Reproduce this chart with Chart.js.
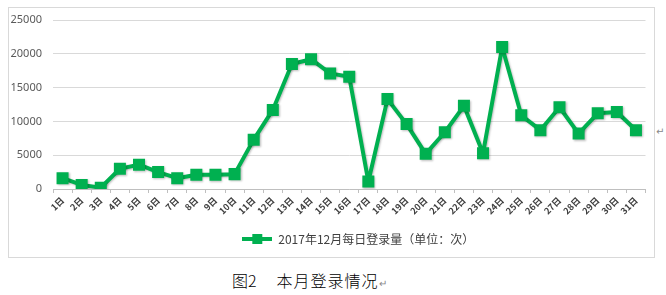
<!DOCTYPE html>
<html>
<head>
<meta charset="utf-8">
<script src="https://cdn.jsdelivr.net/npm/chart.js@4/dist/chart.umd.min.js"></script>
<style>
  html, body { margin: 0; padding: 0; background: #fff; }
  body { width: 666px; height: 295px; position: relative; overflow: hidden; }
  #box {
    position: absolute; left: 8px; top: 7px;
    width: 645px; height: 249px;
    border: 1px solid #d9d9d9;
  }
  #caption {
    position: absolute; left: 232px; top: 268px;
    font-family: "Noto Sans CJK SC", sans-serif; font-size: 16px; font-weight: 300; color: #000;
    white-space: pre;
  }
  #caption .gap { display: inline-block; width: 20px; }
  #caption .txt { letter-spacing: 1px; }
  .mark { color: #888; font-size: 10px; }
  #sideMark { position: absolute; left: 656px; top: 126px; font-family: "DejaVu Sans", sans-serif; }
</style>
</head>
<body>
<div id="box"><canvas id="chart"></canvas></div>
<div id="sideMark" class="mark">↵</div>
<div id="caption">图2<span class="gap"></span><span class="txt">本月登录情况</span><span class="mark">↵</span></div>
<script>
// Chart data
const days = Array.from({ length: 31 }, (_, i) => (i + 1) + "日");
const logins = [1600, 600, 200, 3000, 3600, 2500, 1600, 2100, 2100, 2200,
  7300, 11700, 18500, 19200, 17100, 16600, 1100, 13300, 9600, 5200,
  8400, 12300, 5300, 21000, 10900, 8700, 12100, 8200, 11200, 11400, 8700];
const yTicks = [0, 5000, 10000, 15000, 20000, 25000];
const seriesName = "2017年12月每日登录量（单位：次）";

const green = "#00B050";

// Legend icon: line with a square in the middle
function legendIcon() {
  const c = document.createElement("canvas");
  c.width = 30;
  c.height = 12;
  const g = c.getContext("2d");
  g.strokeStyle = green;
  g.lineWidth = 4;
  g.beginPath();
  g.moveTo(0, 6);
  g.lineTo(30, 6);
  g.stroke();
  g.fillStyle = green;
  g.fillRect(10, 1, 10, 10);
  return c;
}

// Soft shadow under the line and markers
const shadowPlugin = {
  id: "shadow",
  beforeDatasetsDraw(chart) {
    const ctx = chart.ctx;
    ctx.save();
    ctx.shadowColor = "rgba(0,0,0,0.25)";
    ctx.shadowBlur = 2;
    ctx.shadowOffsetX = 1;
    ctx.shadowOffsetY = 1;
  },
  afterDatasetsDraw(chart) {
    chart.ctx.restore();
  }
};

// Center the legend under the plot area instead of the whole canvas
const legendShift = {
  id: "legendShift",
  beforeDraw(chart) {
    const lg = chart.legend;
    const area = chart.chartArea;
    const dx = (area.left + area.right) / 2 - (lg.left + lg.right) / 2 + 9;
    lg.left += dx;
    lg.right += dx;
  }
};

const ctx = document.getElementById("chart").getContext("2d");
new Chart(ctx, {
  type: "line",
  data: {
    labels: days,
    datasets: [
      {
        label: seriesName,
        data: logins,
        borderColor: green,
        backgroundColor: green,
        borderWidth: 4,
        borderJoinStyle: "round",
        tension: 0,
        pointStyle: "rect",
        pointRadius: 8.5,
        pointHoverRadius: 8.5,
        pointBorderWidth: 0,
      },
    ],
  },
  plugins: [shadowPlugin, legendShift],
  options: {
    responsive: true,
    maintainAspectRatio: false,
    animation: false,
    events: [],
    layout: {
      padding: { top: 0, right: 6, left: 0, bottom: 2 },
    },
    plugins: {
      tooltip: { enabled: false },
      legend: {
        position: "bottom",
        labels: {
          usePointStyle: true,
          pointStyleWidth: 30,
          padding: 5,
          color: "#404040",
          font: { family: "'Noto Sans CJK SC', sans-serif", size: 12 },
          generateLabels(chart) {
            const icon = legendIcon();
            return chart.data.datasets.map((ds, i) => ({
              text: ds.label,
              pointStyle: icon,
              fillStyle: green,
              strokeStyle: green,
              lineWidth: 0,
              fontColor: "#404040",
              datasetIndex: i,
            }));
          },
        },
      },
    },
    scales: {
      x: {
        offset: true,
        grid: {
          display: true,
          offset: true,
          drawOnChartArea: false,
          drawTicks: true,
          tickLength: 4,
          color: "#bfbfbf",
        },
        border: { color: "#bfbfbf" },
        ticks: {
          autoSkip: false,
          maxRotation: 45,
          minRotation: 45,
          padding: 2,
          color: "#404040",
          font: { family: "'Noto Sans CJK SC', sans-serif", size: 9, weight: "bold" },
        },
        afterFit(scale) {
          scale.height = 39;
        },
      },
      y: {
        min: 0,
        max: 25000,
        afterBuildTicks(scale) {
          scale.ticks = yTicks.map((v) => ({ value: v }));
        },
        grid: {
          color: "#d9d9d9",
          drawTicks: false,
        },
        border: { display: false },
        ticks: {
          padding: 11,
          color: "#595959",
          font: { family: "'Noto Sans', sans-serif", size: 11 },
          callback: (v) => String(v),
        },
        afterFit(scale) {
          scale.width = 44;
          scale.paddingTop = 12;
          scale.paddingBottom = 0;
        },
      },
    },
  },
});
</script>
</body>
</html>
